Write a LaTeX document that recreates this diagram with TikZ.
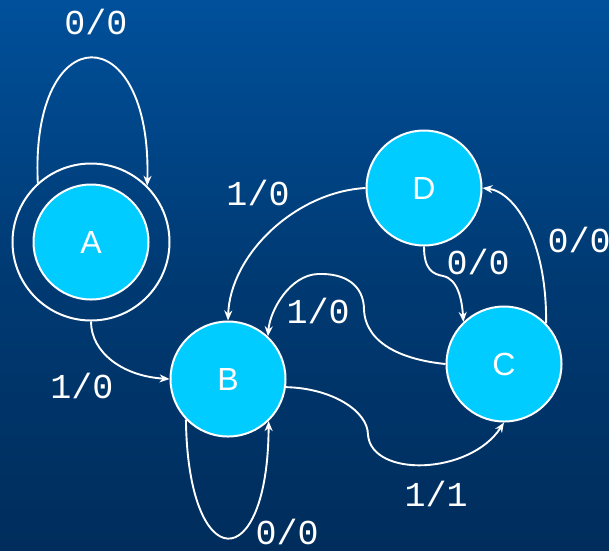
\documentclass[tikz,border=0pt]{standalone}
\usepackage{fontspec}
\setmainfont{Liberation Sans}
\newfontfamily\labfont{Liberation Mono}
\usetikzlibrary{arrows.meta}
\definecolor{bgtop}{RGB}{0,80,155}
\definecolor{bgmid}{RGB}{0,58,115}
\definecolor{bgbot}{RGB}{0,45,92}
\definecolor{stcyan}{RGB}{0,204,255}
\begin{document}
\begin{tikzpicture}[x=1pt,y=-1pt,
  state/.style={circle,draw=white,fill=stcyan,line width=2pt,minimum size=115pt,inner sep=0pt,
    text=white,font=\fontsize{32}{32}\selectfont},
  ring/.style={circle,draw=white,line width=2pt,minimum size=157pt,inner sep=0pt},
  edge/.style={draw=white,line width=1.9pt,-{Stealth[length=10pt,width=8pt]}},
  lab/.style={text=white,font=\labfont\fontsize{35}{35}\selectfont,inner sep=0pt}]
\shade[top color=bgtop,bottom color=bgbot,middle color=bgmid] (0,0) rectangle (609,550);
\useasboundingbox (0,0) rectangle (609,550);
\node[ring] (Ao) at (91,242) {};
\node[state] (A) at (91,242) {A};
\node[state] (B) at (228,379) {B};
\node[state] (C) at (504,364) {C};
\node[state] (D) at (424,188) {D};
% A self loop
\draw[edge] (Ao.132) .. controls (30,16) and (152,16) .. (Ao.45);
\node[lab] (lAA) at (96,22) {0/0};
% A -> B
\draw[edge] (Ao.south) .. controls (91,352) and (122,376) .. (B.west);
\node[lab] (lAB) at (82,386) {1/0};
% B self loop
\draw[edge] (B.224) .. controls (188,577) and (268,577) .. (B.314);
\node[lab] (lBB) at (287,532) {0/0};
% D -> B
\draw[edge] (D.west) .. controls (295,192) and (230,255) .. (B.north);
\node[lab] (lDB) at (258,193) {1/0};
% D -> C
\draw[edge] (D.south) .. controls (424,270) and (433,274) .. (443,276) .. controls (458,279) and (462,300) .. (C.134);
\node[lab] (lDC) at (478,262) {0/0};
% C -> D
\draw[edge] (C.44) .. controls (547,240) and (515,192) .. (D.east);
\node[lab] (lCD) at (579,240) {0/0};
% C -> B
\draw[edge] (C.west) .. controls (405,360) and (366,345) .. (364,310) .. controls (364,285) and (345,273) .. (318,274) .. controls (290,275) and (270,310) .. (B.47);
\node[lab] (lCB) at (318,311) {1/0};
% B -> C
\draw[edge] (B.352) .. controls (330,388) and (368,410) .. (368,435) .. controls (372,478) and (470,475) .. (C.south);
\node[lab] (lBC) at (436,494) {1/1};
\end{tikzpicture}
\end{document}
